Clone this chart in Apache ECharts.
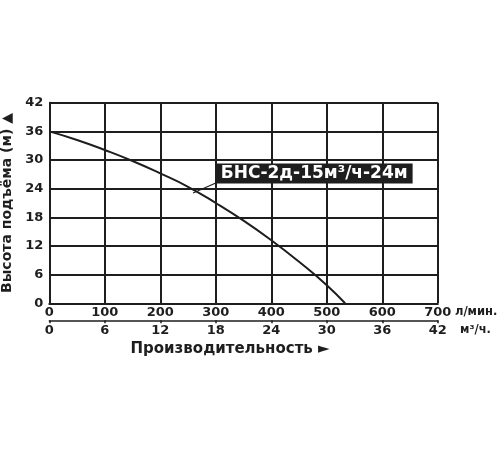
<!DOCTYPE html>
<html><head><meta charset="utf-8">
<script src="https://cdn.jsdelivr.net/npm/echarts@6/dist/echarts.min.js"></script>
<style>html,body{margin:0;padding:0;background:#fff}#c{width:500px;height:450px}</style>
</head><body><div id="c"></div>
<script>
const flowLpm = [0, 50, 100, 150, 200, 250, 300, 350, 400, 450, 500, 533];
const headM   = [36, 34.2, 32.1, 29.8, 27.2, 24.4, 21.0, 17.3, 13.2, 8.7, 3.8, 0];
const seriesName = 'БНС-2д-15м³/ч-24м';
const labelAnchor = [300, 27.2];
const leader = [[259, 23.1], [300, 25.2]];
const yTitle = 'Высота подъёма (м) ▲';
const xTitle = 'Производительность ►';
const unitLpm = 'л/мин.';
const unitM3h = 'м³/ч.';

const ink = '#1e1e1e';
const font = 'DejaVu Sans';
const chart = echarts.init(document.getElementById('c'));
chart.setOption({
  backgroundColor: '#fff',
  animation: false,
  textStyle: {fontFamily: font},
  grid: {left: 49.3, right: 62.2, top: 102.7, bottom: 146.7, containLabel: false, outerBoundsMode: 'none'},
  xAxis: [{
    type: 'value', min: 0, max: 700, interval: 100, position: 'bottom',
    axisLine: {show: true, lineStyle: {color: ink, width: 2}},
    axisTick: {show: false},
    splitLine: {show: true, lineStyle: {color: ink, width: 2}},
    axisLabel: {margin: 3, color: ink, fontWeight: 'bold', fontSize: 13, fontFamily: font}
  }, {
    type: 'value', min: 0, max: 42, interval: 6, position: 'bottom', offset: 17,
    axisLine: {show: true, lineStyle: {color: ink, width: 1.5}},
    axisTick: {show: true, length: 3, lineStyle: {color: ink, width: 1.5}},
    splitLine: {show: false},
    axisLabel: {margin: 4, color: ink, fontWeight: 'bold', fontSize: 13, fontFamily: font},
    name: xTitle, nameLocation: 'middle', nameGap: 21,
    nameTextStyle: {color: ink, fontWeight: 'bold', fontSize: 15, fontFamily: font, padding: [0, 27, 0, 0]}
  }],
  yAxis: {
    type: 'value', min: 0, max: 42, interval: 6,
    axisLine: {show: true, lineStyle: {color: ink, width: 2}},
    axisTick: {show: false},
    splitLine: {show: true, lineStyle: {color: ink, width: 2}},
    axisLabel: {margin: 6, color: ink, fontWeight: 'bold', fontSize: 13, fontFamily: font},
    name: yTitle, nameLocation: 'middle', nameGap: 32, nameRotate: 90,
    nameTextStyle: {color: ink, fontWeight: 'bold', fontSize: 14, fontFamily: font}
  },
  series: [{
    name: seriesName, type: 'line', xAxisIndex: 0, smooth: true, showSymbol: false,
    lineStyle: {color: ink, width: 2},
    data: flowLpm.map((x, i) => [x, headM[i]]),
    markLine: {
      silent: true, symbol: ['none', 'none'],
      lineStyle: {color: ink, width: 1.2, type: 'solid'},
      label: {show: false},
      data: [[{coord: leader[0]}, {coord: leader[1]}]]
    },
    markPoint: {
      silent: true, symbol: 'rect', symbolSize: 0,
      data: [{coord: labelAnchor}],
      label: {
        show: true, position: 'right', distance: 0, formatter: seriesName,
        backgroundColor: '#1e1e1e', color: '#fff', fontWeight: 'bold',
        fontSize: 17, fontFamily: font, padding: [1, 5, 0, 5], lineHeight: 19
      }
    }
  }],
  graphic: [
    {type: 'text', left: 455, top: 306, style: {text: unitLpm, fill: ink, font: 'bold 11.5px "DejaVu Sans"'}},
    {type: 'text', left: 460, top: 324, style: {text: unitM3h, fill: ink, font: 'bold 11.5px "DejaVu Sans"'}}
  ]
});
</script></body></html>
